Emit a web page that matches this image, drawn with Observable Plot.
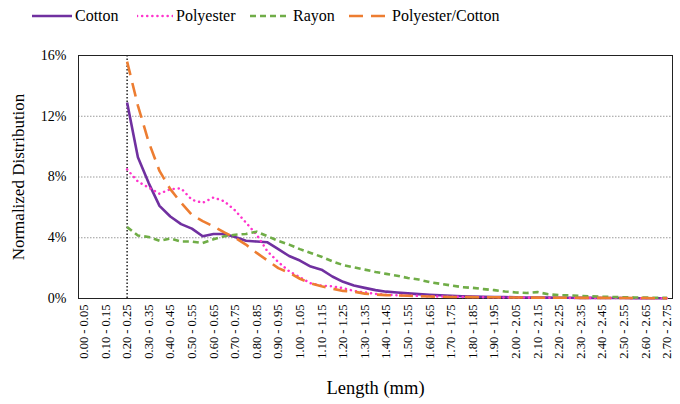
<!DOCTYPE html>
<html>
<head>
<meta charset="utf-8">
<script src="https://cdn.jsdelivr.net/npm/d3@7"></script>
<script src="https://cdn.jsdelivr.net/npm/@observablehq/plot@0.6"></script>
<style>
  html, body { margin: 0; padding: 0; background: white; }
  #wrap { width: 680px; height: 404px; position: relative; font-family: "Liberation Serif", "Liberation Sans", Arial, sans-serif; }
  #legend { position: relative; height: 40px; width: 680px; }
  .item { position: absolute; top: 7px; display: flex; align-items: center; font-size: 16px; color: #000; }
  .item svg { margin-right: 3px; }
</style>
</head>
<body>
<div id="wrap">
  <div id="legend"></div>
  <div id="chart"></div>
</div>
<script>
const categories = [
  "0.00 - 0.05","0.05 - 0.10","0.10 - 0.15","0.15 - 0.20","0.20 - 0.25","0.25 - 0.30","0.30 - 0.35","0.35 - 0.40",
  "0.40 - 0.45","0.45 - 0.50","0.50 - 0.55","0.55 - 0.60","0.60 - 0.65","0.65 - 0.70","0.70 - 0.75","0.75 - 0.80",
  "0.80 - 0.85","0.85 - 0.90","0.90 - 0.95","0.95 - 1.00","1.00 - 1.05","1.05 - 1.10","1.10 - 1.15","1.15 - 1.20",
  "1.20 - 1.25","1.25 - 1.30","1.30 - 1.35","1.35 - 1.40","1.40 - 1.45","1.45 - 1.50","1.50 - 1.55","1.55 - 1.60",
  "1.60 - 1.65","1.65 - 1.70","1.70 - 1.75","1.75 - 1.80","1.80 - 1.85","1.85 - 1.90","1.90 - 1.95","1.95 - 2.00",
  "2.00 - 2.05","2.05 - 2.10","2.10 - 2.15","2.15 - 2.20","2.20 - 2.25","2.25 - 2.30","2.30 - 2.35","2.35 - 2.40",
  "2.40 - 2.45","2.45 - 2.50","2.50 - 2.55","2.55 - 2.60","2.60 - 2.65","2.65 - 2.70","2.70 - 2.75"
];
const xTickLabels = [
  "0.00 - 0.05","0.10 - 0.15","0.20 - 0.25","0.30 - 0.35","0.40 - 0.45","0.50 - 0.55","0.60 - 0.65","0.70 - 0.75",
  "0.80 - 0.85","0.90 - 0.95","1.00 - 1.05","1.10 - 1.15","1.20 - 1.25","1.30 - 1.35","1.40 - 1.45","1.50 - 1.55",
  "1.60 - 1.65","1.70 - 1.75","1.80 - 1.85","1.90 - 1.95","2.00 - 2.05","2.10 - 2.15","2.20 - 2.25","2.30 - 2.35",
  "2.40 - 2.45","2.50 - 2.55","2.60 - 2.65","2.70 - 2.75"
];
const yTicks = [0, 4, 8, 12, 16];
const startCategory = "0.20 - 0.25";

// values (%) from 0.20 - 0.25 to 2.70 - 2.75
const cotton = [12.9,9.3,7.6,6.1,5.4,4.9,4.6,4.1,4.25,4.25,4.05,3.8,3.75,3.7,3.25,2.8,2.5,2.1,1.9,1.45,1.1,0.85,0.7,0.55,0.45,0.4,0.34,0.29,0.25,0.21,0.18,0.15,0.13,0.11,0.1,0.09,0.08,0.07,0.06,0.06,0.05,0.05,0.04,0.04,0.03,0.03,0.03,0.02,0.02,0.02,0.02];
const polyester = [8.5,7.7,7.3,6.9,7.2,7.25,6.5,6.3,6.65,6.4,5.8,5.0,4.2,3.1,2.4,1.8,1.4,1.0,0.85,0.8,0.68,0.5,0.4,0.3,0.25,0.22,0.2,0.17,0.15,0.13,0.12,0.1,0.1,0.09,0.08,0.07,0.07,0.06,0.05,0.05,0.05,0.04,0.04,0.04,0.03,0.03,0.03,0.02,0.02,0.02,0.02];
const rayon = [4.7,4.15,4.05,3.8,3.95,3.75,3.75,3.65,3.9,4.1,4.2,4.25,4.4,4.1,3.8,3.55,3.25,3.0,2.75,2.45,2.2,2.05,1.9,1.75,1.62,1.5,1.35,1.25,1.08,0.97,0.86,0.75,0.7,0.62,0.55,0.46,0.4,0.36,0.42,0.28,0.22,0.2,0.17,0.14,0.12,0.1,0.08,0.07,0.06,0.05,0.04];
const polyCotton = [15.6,12.7,10.3,8.4,7.2,6.3,5.5,5.1,4.75,4.35,4.0,3.55,3.0,2.5,2.0,1.7,1.3,1.0,0.8,0.65,0.5,0.45,0.32,0.26,0.22,0.2,0.18,0.15,0.13,0.12,0.1,0.1,0.09,0.08,0.08,0.07,0.07,0.06,0.06,0.05,0.05,0.05,0.04,0.04,0.04,0.03,0.03,0.03,0.03,0.02,0.02];

const seriesNames = ["Cotton", "Polyester", "Rayon", "Polyester/Cotton"];
const seriesValues = [cotton, polyester, rayon, polyCotton];
const styles = [
  {stroke: "#7030A0", strokeWidth: 2.6, strokeDasharray: null, strokeLinecap: "butt"},
  {stroke: "#FF33CC", strokeWidth: 2.5, strokeDasharray: "0.1 5", strokeLinecap: "round"},
  {stroke: "#70AD47", strokeWidth: 2.6, strokeDasharray: "6 4", strokeLinecap: "butt"},
  {stroke: "#ED7D31", strokeWidth: 2.6, strokeDasharray: "14 8", strokeLinecap: "butt"}
];

const FONT = "'Liberation Serif', 'Liberation Sans', Arial, sans-serif";
const startIdx = categories.indexOf(startCategory);
const tables = seriesValues.map(vals => vals.map((v, i) => ({cat: categories[startIdx + i], v})));

const chart = Plot.plot({
  width: 680,
  height: 364,
  marginTop: 15,
  marginBottom: 106,
  marginLeft: 78,
  marginRight: 8,
  style: {fontFamily: FONT, background: "white", color: "black"},
  x: {type: "point", domain: categories, padding: 0.5},
  y: {domain: [0, 16]},
  marks: [
    Plot.ruleY([4, 8, 12], {stroke: "#9a9a9a", strokeWidth: 1, strokeDasharray: "1.5 1.5"}),
    Plot.ruleX([startCategory], {stroke: "black", strokeWidth: 1.3, strokeDasharray: "1.5 2"}),
    Plot.frame({stroke: "#222", strokeWidth: 1}),
    Plot.axisY({ticks: yTicks, tickFormat: d => d + "%", tickSize: 0, tickPadding: 12, fontSize: 14, fontFamily: FONT, label: null}),
    Plot.axisX({ticks: xTickLabels, tickRotate: -90, tickSize: 0, tickPadding: 6, fontSize: 12.5, fontFamily: FONT, label: null}),
    Plot.text(["Length (mm)"], {frameAnchor: "bottom", dy: 95, fontSize: 18.5, fontFamily: FONT}),
    Plot.text(["Normalized Distribution"], {frameAnchor: "left", dx: -60, rotate: -90, textAnchor: "middle", fontSize: 17, fontFamily: FONT}),
    ...tables.map((t, k) => Plot.lineY(t, {x: "cat", y: "v", ...styles[k], strokeLinejoin: "round"}))
  ]
});
document.getElementById("chart").appendChild(chart);

// legend
const legendPos = [32, 137, 250, 349];
const swatchW = [40, 36, 40, 40];
const legend = document.getElementById("legend");
seriesNames.forEach((name, k) => {
  const s = styles[k];
  const div = document.createElement("div");
  div.className = "item";
  div.style.left = legendPos[k] + "px";
  const w = swatchW[k];
  div.innerHTML = `<svg width="${w}" height="12"><line x1="0" y1="6" x2="${w}" y2="6" stroke="${s.stroke}" stroke-width="${s.strokeWidth}" ${s.strokeDasharray ? `stroke-dasharray="${s.strokeDasharray}"` : ""} stroke-linecap="${s.strokeLinecap}"/></svg><span>${name}</span>`;
  legend.appendChild(div);
});
</script>
</body>
</html>
